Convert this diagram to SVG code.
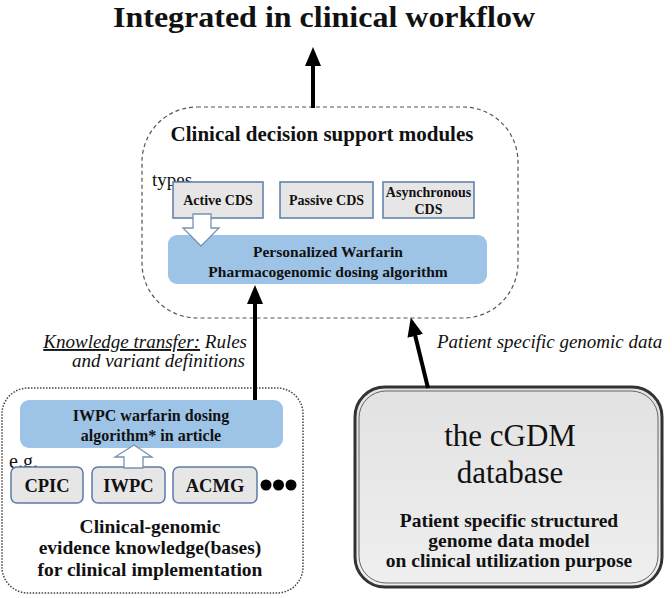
<svg xmlns="http://www.w3.org/2000/svg" width="672" height="598" viewBox="0 0 672 598">
<defs>
<marker id="ah" markerUnits="userSpaceOnUse" markerWidth="20" markerHeight="16" refX="2" refY="8" orient="auto">
<path d="M0,0 L19,8 L0,16 z" fill="#000"/>
</marker>
<linearGradient id="gg" x1="0" y1="0" x2="0" y2="1">
<stop offset="0" stop-color="#e2e2e2"/>
<stop offset="1" stop-color="#efefef"/>
</linearGradient>
</defs>
<style>
text{font-family:"Liberation Serif","Times New Roman",serif;fill:#111}
.b{font-weight:bold}
.c{text-anchor:middle}
.i{font-style:italic}
.blue{fill:#9dc3e6}
.gbox{fill:#e7e6e6;stroke:#5b7ca6;stroke-width:1.5}
.hollow{fill:#fff;stroke:#7891b0;stroke-width:1.3}
.conn{stroke:#000;stroke-width:4;fill:none;marker-end:url(#ah)}
</style>
<rect width="672" height="598" fill="#fff"/>

<g id="title">
<text class="b c" x="324" y="27" font-size="29.5" textLength="422" lengthAdjust="spacingAndGlyphs">Integrated in clinical workflow</text>
</g>

<g id="cds-modules">
<rect x="142" y="107" width="376" height="211" rx="55" ry="55" fill="none" stroke="#555" stroke-width="1.2" stroke-dasharray="4,3"/>
<text class="b c" x="322" y="141" font-size="21">Clinical decision support modules</text>
<text x="152" y="186" font-size="19">types</text>
</g>

<g id="active-cds">
<rect class="gbox" x="173" y="182" width="90" height="36"/>
<text class="b c" x="218" y="205" font-size="14">Active CDS</text>
</g>
<g id="passive-cds">
<rect class="gbox" x="280" y="182" width="93" height="36"/>
<text class="b c" x="326.5" y="205" font-size="14">Passive CDS</text>
</g>
<g id="async-cds">
<rect class="gbox" x="383" y="182" width="91" height="36"/>
<text class="b c" x="428.5" y="197" font-size="14">Asynchronous</text>
<text class="b c" x="428.5" y="214" font-size="14">CDS</text>
</g>

<g id="personalized">
<rect class="blue" x="168" y="235" width="319" height="49" rx="9"/>
<text class="b c" x="328" y="257" font-size="15.5">Personalized Warfarin</text>
<text class="b c" x="328" y="277" font-size="15.5">Pharmacogenomic dosing algorithm</text>
</g>

<g id="knowledge">
<rect x="2" y="388" width="301" height="205" rx="26" fill="none" stroke="#444" stroke-width="1.5" stroke-dasharray="1.5,1.5"/>
<text x="9" y="468" font-size="20">e.g.</text>
<text class="b c" x="150" y="533" font-size="19.5">Clinical-genomic</text>
<text class="b c" x="150" y="554" font-size="19.5">evidence knowledge(bases)</text>
<text class="b c" x="150" y="576" font-size="19.5">for clinical implementation</text>
<circle cx="266" cy="485" r="5.5" fill="#000"/>
<circle cx="278.5" cy="485" r="5.5" fill="#000"/>
<circle cx="291" cy="485" r="5.5" fill="#000"/>
</g>

<g id="iwpc-algorithm">
<rect class="blue" x="20" y="400" width="263" height="48" rx="9"/>
<text class="b c" x="151" y="421" font-size="16">IWPC warfarin dosing</text>
<text class="b c" x="151" y="441" font-size="16">algorithm* in article</text>
</g>

<g id="cpic">
<rect class="gbox" x="11" y="467" width="72" height="36" rx="6"/>
<text class="b c" x="47" y="492" font-size="18.5">CPIC</text>
</g>
<g id="iwpc">
<rect class="gbox" x="92" y="467" width="73" height="36" rx="6"/>
<text class="b c" x="128.5" y="492" font-size="18.5">IWPC</text>
</g>
<g id="acmg">
<rect class="gbox" x="173" y="467" width="84" height="36" rx="6"/>
<text class="b c" x="215" y="492" font-size="18.5">ACMG</text>
</g>

<g id="cgdm">
<rect x="355" y="387" width="307" height="200" rx="30" fill="url(#gg)" stroke="#333" stroke-width="3"/>
<rect x="359" y="391" width="299" height="192" rx="27" fill="none" stroke="#666" stroke-width="1"/>
<text class="c" x="510" y="446" font-size="31">the cGDM</text>
<text class="c" x="510" y="483" font-size="31">database</text>
<text class="b c" x="509" y="527" font-size="19.5">Patient specific structured</text>
<text class="b c" x="509" y="547" font-size="19.5">genome data model</text>
<text class="b c" x="509" y="567" font-size="19.5">on clinical utilization  purpose</text>
</g>

<g id="connectors">
<path class="conn" d="M313,108 L313,64"/>
<path class="conn" d="M255,400 L255,302"/>
<path class="conn" d="M428,388 L414.8,334"/>
<polygon class="hollow" points="193,214 211,214 211,228 219,228 201,246 183,228 193,228"/>
<polygon class="hollow" points="134,445 152,457 143,457 143,468 124,468 124,457 115,457"/>
<text class="i" x="247" y="348" font-size="19" text-anchor="end"><tspan text-decoration="underline">Knowledge transfer:</tspan> Rules</text>
<text class="i" x="245" y="367" font-size="19" text-anchor="end">and variant definitions</text>
<text class="i" x="437" y="348" font-size="19">Patient specific genomic data</text>
</g>
</svg>
